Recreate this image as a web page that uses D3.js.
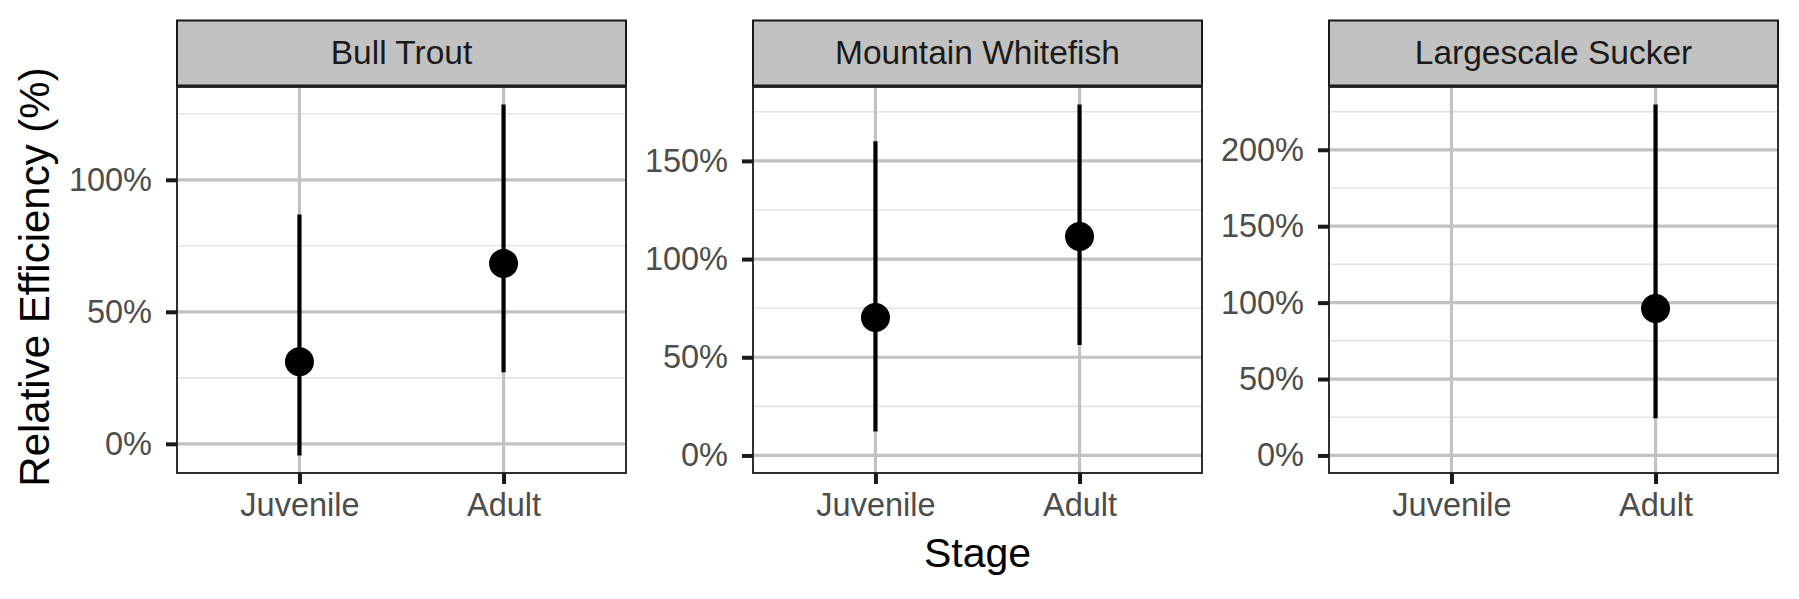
<!DOCTYPE html>
<html>
<head>
<meta charset="utf-8">
<script src="https://cdn.jsdelivr.net/npm/d3@7"></script>
<style>
  body { margin: 0; background: #fff; }
  svg { font-family: "Liberation Sans", Arial, sans-serif; }
</style>
</head>
<body>
<script>
// chart data
var species = ["Bull Trout", "Mountain Whitefish", "Largescale Sucker"];
var stages = ["Juvenile", "Adult"];
var estimate = [[31.1, 68.3], [70.3, 111.5], [null, 96.2]];
var lower = [[-4.4, 27.1], [12.2, 56.3], [null, 24.4]];
var upper = [[86.9, 128.5], [160.0, 178.7], [null, 229.6]];
var yTicks = [[0, 50, 100], [0, 50, 100, 150], [0, 50, 100, 150, 200]];

// frame
var width = 1799, height = 599;
var panelLeft = [177, 753, 1329],
    panelWidth = 449,
    stripTop = 20.5,
    panelTop = 87,
    panelBottom = 473;

var svg = d3.select("body").append("svg")
    .attr("width", width)
    .attr("height", height);

species.forEach(function(name, i) {
    var x0 = panelLeft[i];

    // discrete x: positions 1..2 with ggplot's 0.6 expansion
    var x = d3.scaleLinear().domain([0.4, 2.6]).range([x0, x0 + panelWidth]);
    var xPos = function(s) { return x(stages.indexOf(s) + 1); };

    // y domain with 5% expansion around data and 0
    var lo = d3.min([0].concat(lower[i].filter(function(v) { return v != null; })));
    var hi = d3.max(upper[i].filter(function(v) { return v != null; }));
    var pad = (hi - lo) * 0.05;
    var y = d3.scaleLinear().domain([lo - pad, hi + pad]).range([panelBottom, panelTop]);

    var g = svg.append("g").attr("class", "panel");

    // minor grid
    var minor = d3.range(-25, hi + pad, 50).filter(function(v) { return v > lo - pad; });
    g.selectAll(".minor").data(minor).enter().append("line")
        .attr("x1", x0).attr("x2", x0 + panelWidth)
        .attr("y1", function(d) { return y(d); })
        .attr("y2", function(d) { return y(d); })
        .attr("stroke", "#e4e4e4").attr("stroke-width", 1.6);

    // major grid
    g.selectAll(".major").data(yTicks[i]).enter().append("line")
        .attr("x1", x0).attr("x2", x0 + panelWidth)
        .attr("y1", function(d) { return y(d); })
        .attr("y2", function(d) { return y(d); })
        .attr("stroke", "#c2c2c2").attr("stroke-width", 3.2);

    g.selectAll(".vgrid").data(stages).enter().append("line")
        .attr("x1", xPos).attr("x2", xPos)
        .attr("y1", panelTop).attr("y2", panelBottom)
        .attr("stroke", "#c2c2c2").attr("stroke-width", 3.2);

    // error bars and points
    var rows = stages.map(function(s, j) {
        return { stage: s, est: estimate[i][j], lo: lower[i][j], hi: upper[i][j] };
    }).filter(function(d) { return d.est != null; });

    g.selectAll(".err").data(rows).enter().append("line")
        .attr("x1", function(d) { return xPos(d.stage); })
        .attr("x2", function(d) { return xPos(d.stage); })
        .attr("y1", function(d) { return y(d.lo); })
        .attr("y2", function(d) { return y(d.hi); })
        .attr("stroke", "#000").attr("stroke-width", 4.2);

    g.selectAll(".pt").data(rows).enter().append("circle")
        .attr("cx", function(d) { return xPos(d.stage); })
        .attr("cy", function(d) { return y(d.est); })
        .attr("r", 14.5)
        .attr("fill", "#000");

    // panel border
    g.append("rect")
        .attr("x", x0).attr("y", panelTop)
        .attr("width", panelWidth).attr("height", panelBottom - panelTop)
        .attr("fill", "none").attr("stroke", "#1a1a1a").attr("stroke-width", 1.8);

    // strip
    g.append("rect")
        .attr("x", x0).attr("y", stripTop)
        .attr("width", panelWidth).attr("height", panelTop - stripTop - 1.5)
        .attr("fill", "#c2c2c2").attr("stroke", "#1a1a1a").attr("stroke-width", 2);
    g.append("text")
        .attr("x", x0 + panelWidth / 2)
        .attr("y", (stripTop + panelTop) / 2 - 1)
        .attr("text-anchor", "middle")
        .attr("dominant-baseline", "central")
        .attr("font-size", 33.5)
        .attr("fill", "#1a1a1a")
        .text(name);

    // axes
    var yAxis = d3.axisLeft(y)
        .tickValues(yTicks[i])
        .tickSize(11)
        .tickPadding(14)
        .tickFormat(function(d) { return d + "%"; });
    var ya = svg.append("g")
        .attr("transform", "translate(" + x0 + ",0)")
        .call(yAxis);

    var xAxis = d3.axisBottom(x)
        .tickValues([1, 2])
        .tickSize(11)
        .tickPadding(9)
        .tickFormat(function(d) { return stages[d - 1]; });
    var xa = svg.append("g")
        .attr("transform", "translate(0," + panelBottom + ")")
        .call(xAxis);

    [ya, xa].forEach(function(a) {
        a.select(".domain").remove();
        a.selectAll(".tick line").attr("stroke", "#1a1a1a").attr("stroke-width", 4);
        a.selectAll(".tick text")
            .attr("font-size", 32.5)
            .attr("fill", "#4d4d4d")
            .attr("font-family", "Liberation Sans, Arial, sans-serif");
    });
});

// axis titles
svg.append("text")
    .attr("x", (panelLeft[0] + panelLeft[2] + panelWidth) / 2)
    .attr("y", 567)
    .attr("text-anchor", "middle")
    .attr("font-size", 41)
    .attr("fill", "#000")
    .text("Stage");

svg.append("text")
    .attr("transform", "translate(49,277) rotate(-90)")
    .attr("text-anchor", "middle")
    .attr("font-size", 42)
    .attr("fill", "#000")
    .text("Relative Efficiency (%)");
</script>
</body>
</html>
